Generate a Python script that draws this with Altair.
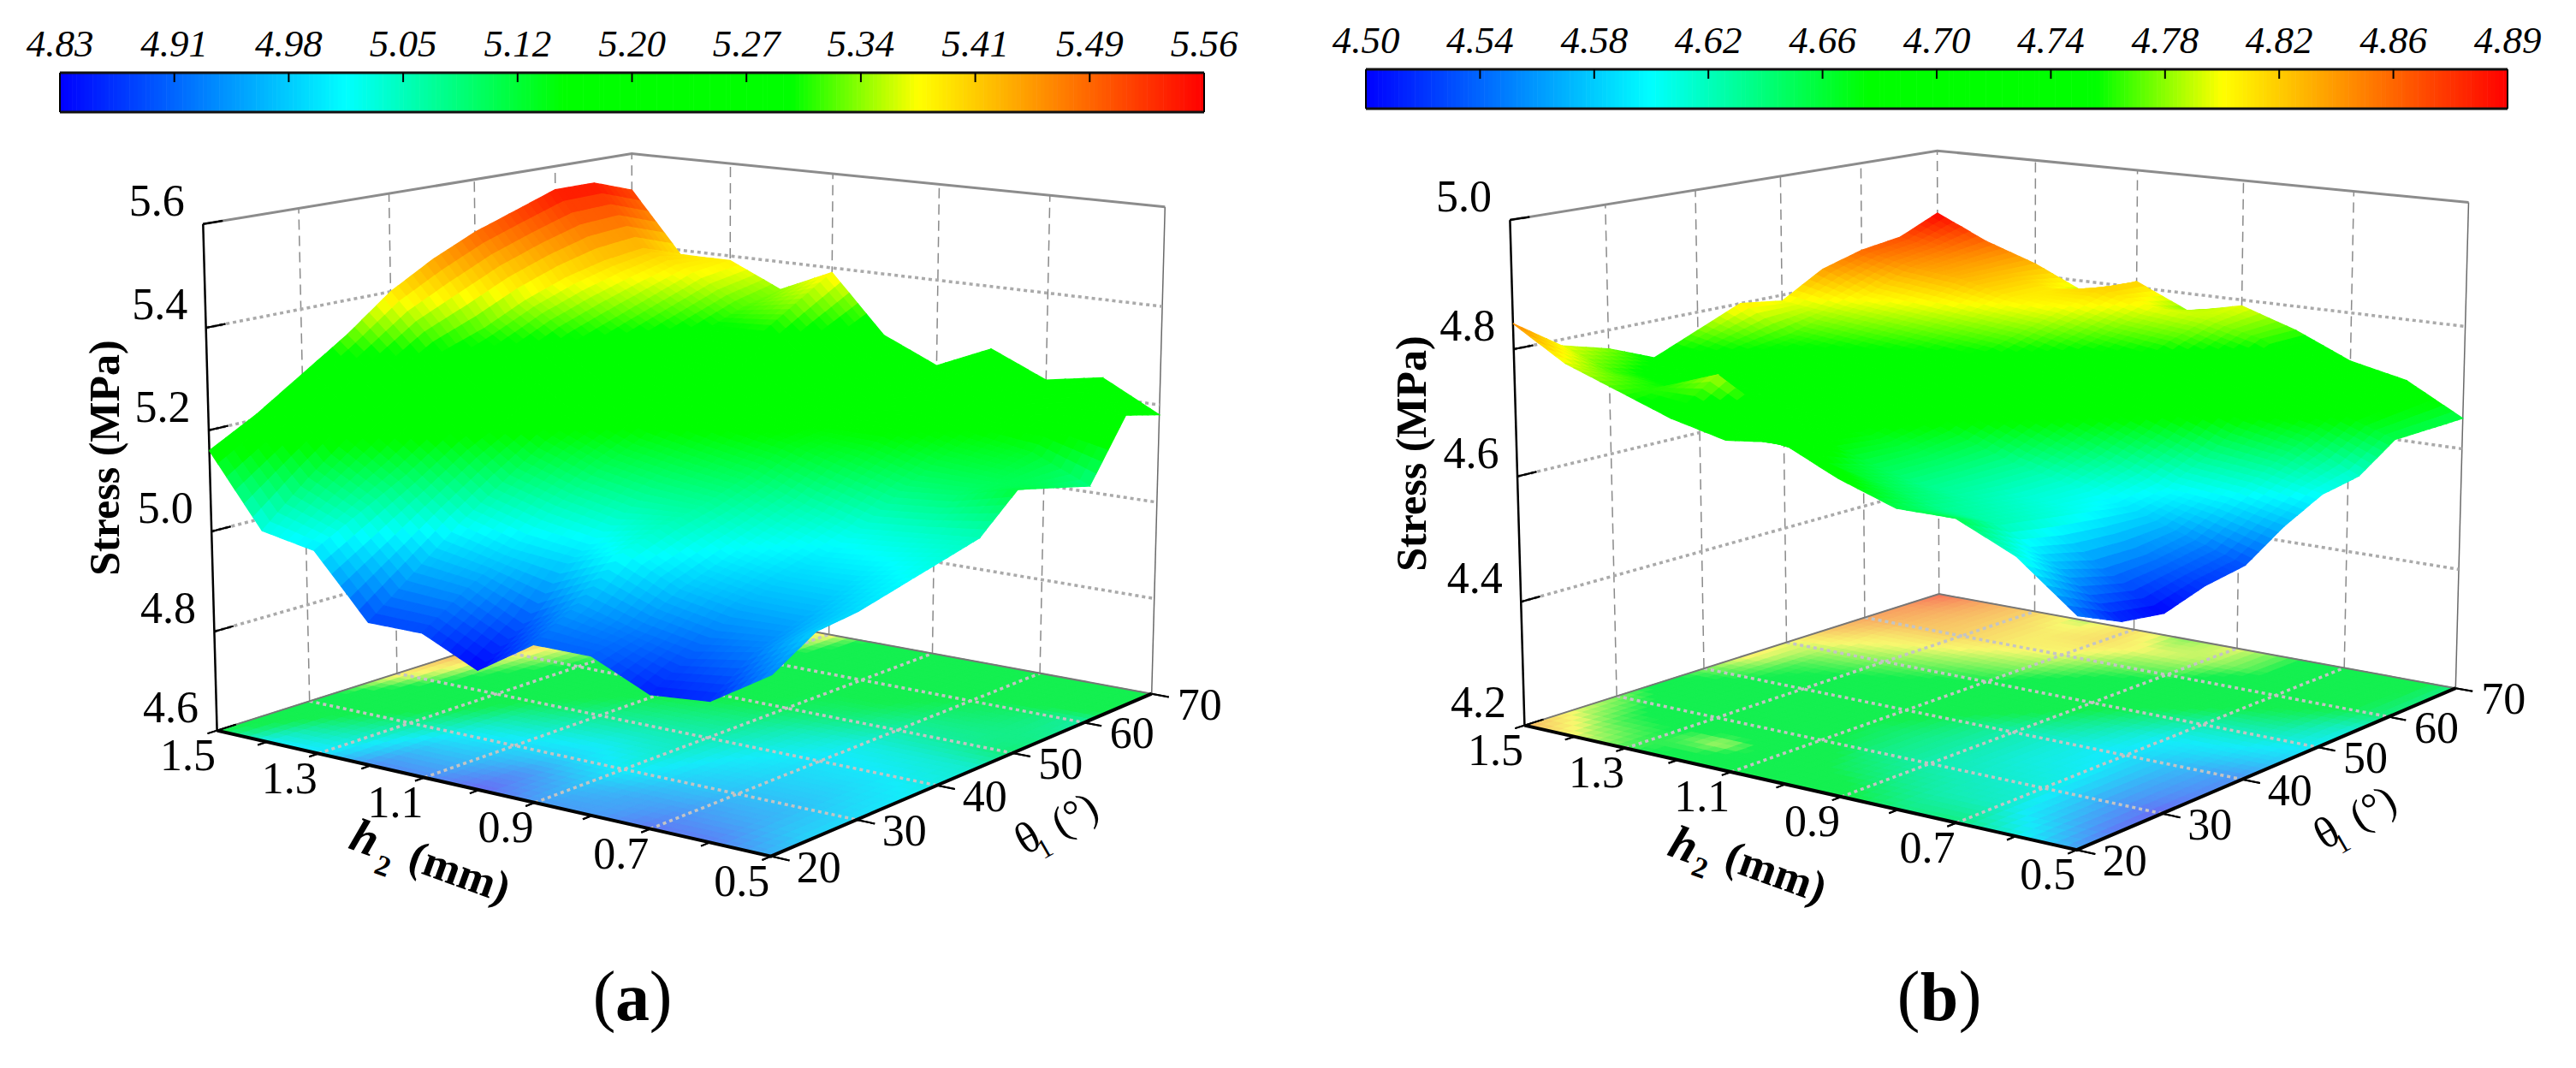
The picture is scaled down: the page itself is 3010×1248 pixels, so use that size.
import numpy as np
import pandas as pd
import altair as alt

alt.data_transformers.disable_max_rows()

# ---- values -----------------------------------------------------------
H2 = [1.5, 1.4, 1.3, 1.2, 1.1, 1.0, 0.9, 0.8, 0.7, 0.6, 0.5]
THETA = [20, 25, 30, 35, 40, 45, 50, 55, 60, 65, 70]

STRESS_A = [
    [5.16, 5.21, 5.27, 5.33, 5.40, 5.45, 5.49, 5.52, 5.55, 5.55, 5.52],
    [5.02, 5.10, 5.17, 5.24, 5.29, 5.32, 5.36, 5.39, 5.41, 5.42, 5.39],
    [5.00, 5.05, 5.10, 5.16, 5.20, 5.25, 5.29, 5.32, 5.35, 5.38, 5.39],
    [4.88, 4.95, 5.02, 5.08, 5.14, 5.18, 5.22, 5.26, 5.29, 5.32, 5.34],
    [4.88, 4.94, 4.99, 5.05, 5.10, 5.14, 5.19, 5.24, 5.29, 5.34, 5.39],
    [4.83, 4.89, 4.98, 5.03, 5.08, 5.12, 5.16, 5.18, 5.20, 5.24, 5.27],
    [4.90, 4.95, 5.02, 5.05, 5.07, 5.10, 5.14, 5.15, 5.17, 5.19, 5.22],
    [4.90, 4.92, 4.97, 5.00, 5.03, 5.06, 5.11, 5.15, 5.18, 5.23, 5.27],
    [4.85, 4.90, 4.95, 4.98, 5.00, 5.03, 5.08, 5.12, 5.15, 5.18, 5.22],
    [4.86, 4.92, 4.95, 4.98, 5.01, 5.04, 5.09, 5.11, 5.13, 5.20, 5.24],
    [4.93, 4.98, 4.99, 5.01, 5.03, 5.05, 5.12, 5.10, 5.08, 5.20, 5.18],
]
STRESS_B = [
    [4.84, 4.79, 4.77, 4.74, 4.77, 4.80, 4.79, 4.83, 4.85, 4.86, 4.89],
    [4.79, 4.76, 4.74, 4.73, 4.75, 4.76, 4.78, 4.80, 4.83, 4.84, 4.85],
    [4.76, 4.75, 4.73, 4.71, 4.73, 4.75, 4.77, 4.79, 4.82, 4.82, 4.82],
    [4.73, 4.78, 4.70, 4.69, 4.71, 4.74, 4.76, 4.78, 4.80, 4.80, 4.78],
    [4.71, 4.73, 4.68, 4.67, 4.69, 4.72, 4.75, 4.77, 4.79, 4.81, 4.81],
    [4.72, 4.67, 4.65, 4.65, 4.66, 4.69, 4.72, 4.75, 4.77, 4.79, 4.77],
    [4.68, 4.65, 4.63, 4.63, 4.63, 4.66, 4.69, 4.73, 4.76, 4.78, 4.79],
    [4.65, 4.63, 4.62, 4.61, 4.61, 4.63, 4.66, 4.70, 4.73, 4.76, 4.76],
    [4.65, 4.62, 4.61, 4.60, 4.59, 4.60, 4.63, 4.67, 4.70, 4.72, 4.72],
    [4.61, 4.57, 4.55, 4.55, 4.56, 4.59, 4.62, 4.65, 4.68, 4.69, 4.70],
    [4.54, 4.51, 4.50, 4.52, 4.53, 4.57, 4.60, 4.61, 4.65, 4.65, 4.65],
]
LEGEND_A = ["4.83", "4.91", "4.98", "5.05", "5.12", "5.20", "5.27", "5.34", "5.41", "5.49", "5.56"]
LEGEND_B = ["4.50", "4.54", "4.58", "4.62", "4.66", "4.70", "4.74", "4.78", "4.82", "4.86", "4.89"]
Z_TICKS_A = [4.6, 4.8, 5.0, 5.2, 5.4, 5.6]
Z_TICKS_B = [4.2, 4.4, 4.6, 4.8, 5.0]
H2_LABELS = [1.5, 1.3, 1.1, 0.9, 0.7, 0.5]
THETA_LABELS = [20, 30, 40, 50, 60, 70]

# rainbow colour bar: position along the bar and colour
STOPS = [0, 0.25, 0.44, 0.64, 0.75, 1]
COLORS = ["#0000ff", "#00ffff", "#00ff00", "#00ff00", "#ffff00", "#ff0000"]
FLOOR_COLORS = ["#6a6cf5", "#14ecfa", "#14f050", "#14f050", "#f8f86e", "#f8705a"]

# layout of each panel: the eight corners of the box on the page
PANELS = [
    dict(tag="a", z=STRESS_A, ticks=Z_TICKS_A, legend=LEGEND_A,
         zr=(4.6, 5.6), lr=(4.83, 5.56), bar=(70, 1407, 85, 131), lab_y=52, cap_x=739, cap_off=33,
         floor=dict(L=(254, 853), F=(901, 1001), R=(1346, 810), B=(739, 700)),
         top=dict(L=(237, 261), F=(904, 345), R=(1361, 241), B=(739, 180)),
         title=(124, 535),
         h_parts=((426, 980), (447, 1013), (537, 1020)),
         th_parts=((1201, 980), (1221, 992), (1256, 953))),
    dict(tag="b", z=STRESS_B, ticks=Z_TICKS_B, legend=LEGEND_B,
         zr=(4.2, 5.0), lr=(4.50, 4.89), bar=(1596, 2930, 81, 127), lab_y=48, cap_x=2266, cap_off=36,
         floor=dict(L=(1781, 847), F=(2427, 993), R=(2869, 805), B=(2266, 694)),
         top=dict(L=(1764, 258), F=(2430, 337), R=(2884, 236), B=(2264, 176)),
         title=(1651, 530),
         h_parts=((1967, 988), (1986, 1015), (2075, 1020)),
         th_parts=((2719, 974), (2737, 986), (2773, 945))),
]

SUB_SURFACE = 6
SUB_FLOOR = 5
W, H = 2994, 1232
xs = alt.Scale(domain=[8, 8 + W], range=[0, W])
ys = alt.Scale(domain=[8, 8 + H], range=[0, H])


def fit_camera(p):
    """3x4 projective camera through the eight box corners."""
    rows = []
    cube = dict(L=(0, 0), F=(1, 0), R=(1, 1), B=(0, 1))
    for w, key in ((0, "floor"), (1, "top")):
        for name, (u, v) in cube.items():
            px, py = p[key][name]
            X = [u, v, w, 1]
            rows.append(X + [0, 0, 0, 0] + [-px * a for a in X])
            rows.append([0, 0, 0, 0] + X + [-py * a for a in X])
    _, _, vt = np.linalg.svd(np.array(rows, dtype=float))
    return vt[-1].reshape(3, 4)


def project(cam, u, v, w):
    q = cam @ np.array([u, v, w, 1.0])
    return q[0] / q[2], q[1] / q[2]


polys, lines, texts = [], [], []
legend_rects, next_id = [], 0


def add_line(style, pts):
    global next_id
    next_id += 1
    for o, (x, y) in enumerate(pts):
        lines.append(dict(style=style, id=next_id, o=o, x=round(x, 1), y=round(y, 1)))


def add_text(kind, text, x, y):
    texts.append(dict(kind=kind, text=text, x=round(x, 1), y=round(y, 1)))


for p in PANELS:
    cam = fit_camera(p)
    z = np.array(p["z"])
    zlo, zhi = p["zr"]
    llo, lhi = p["lr"]
    nu = len(H2) - 1
    nv = len(THETA) - 1
    un = lambda h: (1.5 - h) / 1.0
    vn = lambda t: (t - 20) / 50.0
    wn = lambda s: (s - zlo) / (zhi - zlo)
    P = lambda h, t, s: project(cam, un(h), vn(t), wn(s))

    # walls
    for t in [30, 40, 50, 60]:
        add_line("dash", [P(1.5, t, zlo), P(1.5, t, zhi)])
    for h in [1.3, 1.1, 0.9, 0.7]:
        add_line("dash", [P(h, 70, zlo), P(h, 70, zhi)])
    add_line("dash", [P(1.5, 70, zlo), P(1.5, 70, zhi)])
    add_line("thin", [P(0.5, 70, zlo), P(0.5, 70, zhi)])
    for s in p["ticks"][1:-1]:
        add_line("dot", [P(1.5, 20, s), P(1.5, 70, s), P(0.5, 70, s)])
    add_line("rim", [P(1.5, 20, zhi), P(1.5, 70, zhi), P(0.5, 70, zhi)])

    # floor contour and surface, cut into small quads so the colour runs smoothly
    def mesh(floor):
        global next_id
        SUB = SUB_FLOOR if floor else SUB_SURFACE
        for i in range(nu):
            for j in range(nv - 1, -1, -1):
                for a in range(SUB):
                    for b in range(SUB - 1, -1, -1):
                        next_id += 1
                        s0, s1 = a / SUB, (a + 1) / SUB
                        t0, t1 = b / SUB, (b + 1) / SUB
                        corners = [(s0, t0), (s1, t0), (s1, t1), (s0, t1)]
                        pts, vals = [], []
                        for s, t in corners:
                            val = ((1 - s) * (1 - t) * z[i, j] + s * (1 - t) * z[i + 1, j]
                                   + (1 - s) * t * z[i, j + 1] + s * t * z[i + 1, j + 1])
                            h = H2[i] + s * (H2[i + 1] - H2[i])
                            th = THETA[j] + t * (THETA[j + 1] - THETA[j])
                            pts.append(P(h, th, zlo if floor else val))
                            vals.append(val)
                        lev = float(np.clip((np.mean(vals) - llo) / (lhi - llo), 0, 1))
                        lev = round(lev, 3) + (2 if floor else 0)
                        for o, (x, y) in enumerate(pts + pts[:1]):
                            polys.append(dict(id=next_id, o=o, x=round(x, 1), y=round(y, 1), lev=lev))

    mesh(True)

    # floor grid and axes
    for h in [1.3, 1.1, 0.9, 0.7]:
        add_line("floordot", [P(h, 20, zlo), P(h, 70, zlo)])
    for t in [30, 40, 50, 60]:
        add_line("floordot", [P(1.5, t, zlo), P(0.5, t, zlo)])
    add_line("backedge", [P(1.5, 20, zlo), P(1.5, 70, zlo), P(0.5, 70, zlo)])
    add_line("axis", [P(1.5, 20, zlo), P(0.5, 20, zlo), P(0.5, 70, zlo)])
    add_line("zaxis", [P(1.5, 20, zlo), P(1.5, 20, zhi)])

    # ticks and tick labels
    for s in p["ticks"]:
        x, y = P(1.5, 20, s)
        x2, y2 = P(1.5, 22, s)
        add_line("tick", [(x, y), (x2, y2)])
        add_text("tick", f"{s:.1f}", x - 54, y - 26)
    for h in H2:
        x, y = P(h, 20, zlo)
        x2, y2 = P(h, 19, zlo)
        add_line("tick", [(x, y), (x2, y2)])
    for h in H2_LABELS:
        x, y = P(h, 20, zlo)
        add_text("tick", f"{h:.1f}", x - 34, y + 30)
    for t in THETA_LABELS:
        x, y = P(0.5, t, zlo)
        x2, y2 = P(0.47, t, zlo)
        add_line("tick", [(x, y), (x2, y2)])
        add_text("tick", f"{t}", x + 56, y + 14)

    # colour bar
    x0, x1, y0, y1 = p["bar"]
    n = 280
    for k in range(n):
        legend_rects.append(dict(x=x0 + (x1 - x0) * k / n, x2=x0 + (x1 - x0) * (k + 1) / n + 0.6,
                                 y=y0, y2=y1, lev=(k + 0.5) / n))
    add_line("bar", [(x0, y0), (x1, y0)])
    add_line("bar", [(x0, y1), (x1, y1)])
    add_line("tick", [(x0, y0), (x0, y1)])
    add_line("tick", [(x1, y0), (x1, y1)])
    m = len(p["legend"]) - 1
    for k, lab in enumerate(p["legend"]):
        xk = x0 + (x1 - x0) * k / m
        add_text("legend", lab, xk, p["lab_y"])
        if 0 < k < m:
            add_line("tick", [(xk, y0), (xk, y0 + 11)])

    # titles
    add_text("ztitle", "Stress (MPa)", *p["title"])
    for kind, text, pos in zip(("hsym", "hsub", "htitle"), ("h", "2", "(mm)"), p["h_parts"]):
        add_text(kind, text, *pos)
    for kind, text, pos in zip(("thsym", "thsub", "thtitle"), ("θ", "1", "(°)"), p["th_parts"]):
        add_text(kind, text, *pos)
    cx, off = p["cap_x"], p["cap_off"]
    add_text("cap", "(", cx - off, 1166)
    add_text("capb", p["tag"], cx, 1168)
    add_text("cap", ")", cx + off, 1166)

    mesh(False)

polys = pd.DataFrame(polys)
lines = pd.DataFrame(lines)
texts = pd.DataFrame(texts)
legend_rects = pd.DataFrame(legend_rects)

is_floor = polys["lev"] >= 2
floor_df = polys[is_floor]
surf_df = polys[~is_floor]

# one colour scale: 0..1 is the surface and the bar, 2..3 the paler floor
color_scale = alt.Scale(
    domain=STOPS + [s + 2 for s in STOPS],
    range=COLORS + FLOOR_COLORS,
    interpolate="rgb",
)


def poly_layer(df):
    return alt.Chart(df).mark_line(strokeWidth=1.2, interpolate="linear").encode(
        x=alt.X("x:Q", scale=xs, axis=None),
        y=alt.Y("y:Q", scale=ys, axis=None),
        detail="id:Q",
        order="o:Q",
        fill=alt.Fill("lev:Q", scale=color_scale, legend=None),
        stroke=alt.Stroke("lev:Q", scale=color_scale, legend=None),
    )


def line_layer(style, **mark):
    df = lines[lines["style"] == style]
    return alt.Chart(df).mark_line(**mark).encode(
        x=alt.X("x:Q", scale=xs, axis=None),
        y=alt.Y("y:Q", scale=ys, axis=None),
        detail="id:Q",
        order="o:Q",
    )


def text_layer(kind, **mark):
    df = texts[texts["kind"] == kind]
    return alt.Chart(df).mark_text(font="Liberation Serif", align="center", baseline="middle", color="#000000", **mark).encode(
        x=alt.X("x:Q", scale=xs, axis=None),
        y=alt.Y("y:Q", scale=ys, axis=None),
        text="text:N",
    )


bar_layer = alt.Chart(legend_rects).mark_rect().encode(
    x=alt.X("x:Q", scale=xs, axis=None),
    x2="x2:Q",
    y=alt.Y("y:Q", scale=ys, axis=None),
    y2="y2:Q",
    fill=alt.Fill("lev:Q", scale=color_scale, legend=None),
)

chart = alt.layer(
    line_layer("dash", color="#8a8a8a", strokeWidth=1.5, strokeDash=[12, 7]),
    line_layer("thin", color="#6a6a6a", strokeWidth=1.5),
    line_layer("dot", color="#aaaaaa", strokeWidth=3.5, strokeDash=[4, 4]),
    line_layer("rim", color="#8c8c8c", strokeWidth=3),
    poly_layer(floor_df),
    line_layer("floordot", color="#c4c4c4", strokeWidth=3.5, strokeDash=[4, 4]),
    line_layer("backedge", color="#777777", strokeWidth=2),
    line_layer("axis", color="#000000", strokeWidth=4),
    line_layer("zaxis", color="#000000", strokeWidth=2.5),
    line_layer("tick", color="#000000", strokeWidth=2),
    poly_layer(surf_df),
    bar_layer,
    line_layer("bar", color="#111111", strokeWidth=3),
    line_layer("tick", color="#000000", strokeWidth=2),
    text_layer("tick", fontSize=52),
    text_layer("legend", fontSize=45, fontStyle="italic"),
    text_layer("ztitle", fontSize=50, fontWeight="bold", angle=270),
    text_layer("hsym", fontSize=56, fontWeight="bold", fontStyle="italic", angle=20),
    text_layer("hsub", fontSize=34, fontWeight="bold", angle=20),
    text_layer("htitle", fontSize=52, fontWeight="bold", angle=20),
    text_layer("thsym", fontSize=52, angle=330),
    text_layer("thsub", fontSize=32, angle=330),
    text_layer("thtitle", fontSize=50, angle=330),
    text_layer("cap", fontSize=80),
    text_layer("capb", fontSize=80, fontWeight="bold"),
).properties(width=W, height=H, padding=0, autosize=alt.AutoSizeParams(type="none")).configure_view(stroke=None)

chart.save("out.html", embed_options={"renderer": "svg", "actions": False})
